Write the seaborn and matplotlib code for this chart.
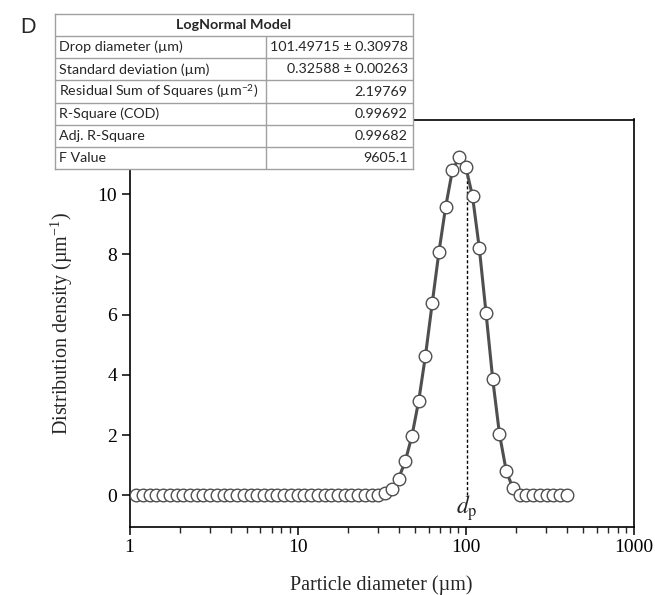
import matplotlib
matplotlib.use("Agg")
import matplotlib.pyplot as plt
import pandas as pd
import seaborn as sns
from matplotlib.ticker import FixedLocator, LogLocator, NullFormatter

# Measured particle size distribution (log-spaced diameter bins)
diameter_um = [
    1.096, 1.202, 1.318, 1.445, 1.585, 1.738, 1.905, 2.089, 2.291, 2.512,
    2.754, 3.020, 3.311, 3.631, 3.981, 4.365, 4.786, 5.248, 5.754, 6.310,
    6.918, 7.586, 8.318, 9.120, 10.00, 10.96, 12.02, 13.18, 14.45, 15.85,
    17.38, 19.05, 20.89, 22.91, 25.12, 27.54, 30.20, 33.11, 36.31, 39.81,
    43.65, 47.86, 52.48, 57.54, 63.10, 69.18, 75.86, 83.18, 91.20, 100.0,
    109.6, 120.2, 131.8, 144.5, 158.5, 173.8, 190.5, 208.9, 229.1, 251.2,
    275.4, 302.0, 331.1, 363.1, 398.1,
]
density = [
    0, 0, 0, 0, 0, 0, 0, 0, 0, 0,
    0, 0, 0, 0, 0, 0, 0, 0, 0, 0,
    0, 0, 0, 0, 0, 0, 0, 0, 0, 0,
    0, 0, 0, 0, 0, 0, 0, 0.08, 0.20, 0.56,
    1.14, 1.99, 3.15, 4.64, 6.38, 8.08, 9.58, 10.79, 11.22, 10.90,
    9.93, 8.22, 6.07, 3.86, 2.04, 0.82, 0.24, 0.03, 0, 0,
    0, 0, 0, 0, 0,
]

# LogNormal fit summary
drop_diameter = 101.49715
density_at_dp = 10.6
x_ticks = [1, 10, 100, 1000]
x_tick_labels = ["1", "10", "100", "1000"]
y_ticks = [0, 2, 4, 6, 8, 10]

table_title = "LogNormal Model"
table_names = [
    "Drop diameter (µm)",
    "Standard deviation (µm)",
    r"Residual Sum of Squares (µm$^{\mathregular{-2}}$)",
    "R-Square (COD)",
    "Adj. R-Square",
    "F Value",
]
table_values = [
    "101.49715 ± 0.30978",
    "0.32588 ± 0.00263",
    "2.19769",
    "0.99692",
    "0.99682",
    "9605.1",
]

sns.set_style("ticks")
plt.rcParams["font.family"] = ["Liberation Serif", "DejaVu Serif"]
plt.rcParams["mathtext.fontset"] = "stix"

W, H = 655, 595
fig = plt.figure(figsize=(W / 100, H / 100), dpi=100)

ax_l, ax_r, ax_t, ax_b = 129.5, 634, 119.5, 526.5
ax = fig.add_axes([ax_l / W, 1 - ax_b / H, (ax_r - ax_l) / W, (ax_b - ax_t) / H])

df = pd.DataFrame({"diameter": diameter_um, "density": density})
line_col = "#4f4f4f"
sns.lineplot(data=df, x="diameter", y="density", ax=ax, color=line_col,
             linewidth=2.2, zorder=2)
sns.scatterplot(data=df, x="diameter", y="density", ax=ax, s=82,
                facecolor="white", edgecolor=line_col, linewidth=1.0, zorder=3)

ax.vlines(drop_diameter, 0, density_at_dp, colors="black", linewidth=1.0,
          linestyles=(0, (2.2, 1.6)), zorder=1)
ax.text(drop_diameter, -0.42, r"$d_\mathrm{p}$", ha="center", va="center",
        fontsize=17)

ax.set_xscale("log")
ax.set_xlim(1, 1000)
ax.set_ylim(-1.03, 12.48)
ax.xaxis.set_major_locator(FixedLocator(x_ticks))
ax.set_xticklabels(x_tick_labels)
ax.xaxis.set_minor_locator(LogLocator(base=10, subs=range(2, 10)))
ax.xaxis.set_minor_formatter(NullFormatter())
ax.set_yticks(y_ticks)

for s in ax.spines.values():
    s.set_visible(True)
    s.set_linewidth(1.2)
    s.set_color("black")
ax.tick_params(axis="both", which="major", direction="out", length=6,
               width=1.1, labelsize=14, colors="black")
ax.tick_params(axis="x", which="major", pad=3)
ax.tick_params(axis="y", which="major", pad=3)
ax.tick_params(axis="x", which="minor", direction="out", length=4, width=1.0)
ax.tick_params(axis="y", which="minor", left=False)

ax.set_xlabel("Particle diameter (µm)", fontsize=14.5, labelpad=14)
ax.set_ylabel(r"Distribution density (µm$^{\mathregular{-1}}$)", fontsize=14.5,
              labelpad=16)

# Fit summary table in the upper-left corner
t_l, t_r, t_t, t_b = 55, 413, 14, 169
tab = fig.add_axes([t_l / W, 1 - t_b / H, (t_r - t_l) / W, (t_b - t_t) / H],
                   zorder=5)
tab.set_xlim(0, 1)
tab.set_ylim(7, 0)
tab.set_facecolor("white")
for s in tab.spines.values():
    s.set_color("#a0a0a0")
    s.set_linewidth(1.0)
tab.set_xticks([])
tab.set_yticks([])
grid_col = "#a0a0a0"
col_x = (266 - t_l) / (t_r - t_l)
for r in range(1, 7):
    tab.axhline(r, color=grid_col, linewidth=1.0)
tab.vlines(col_x, 1, 7, colors=grid_col, linewidth=1.0)

tfont = ["Lato", "DejaVu Sans"]
tsize = 10.3
tab.text(0.5, 0.5, table_title, ha="center", va="center", fontsize=tsize,
         fontweight="bold", family=tfont)
for i, (name, val) in enumerate(zip(table_names, table_values)):
    y = i + 1.5
    tab.text(0.012, y, name, ha="left", va="center", fontsize=tsize, family=tfont)
    tab.text(0.985, y, val, ha="right", va="center", fontsize=tsize, family=tfont)

fig.text(20 / W, 1 - 33 / H, "D", fontsize=15.5, family="Liberation Sans",
         ha="left", va="baseline")

fig.savefig("out.png", dpi=100)
